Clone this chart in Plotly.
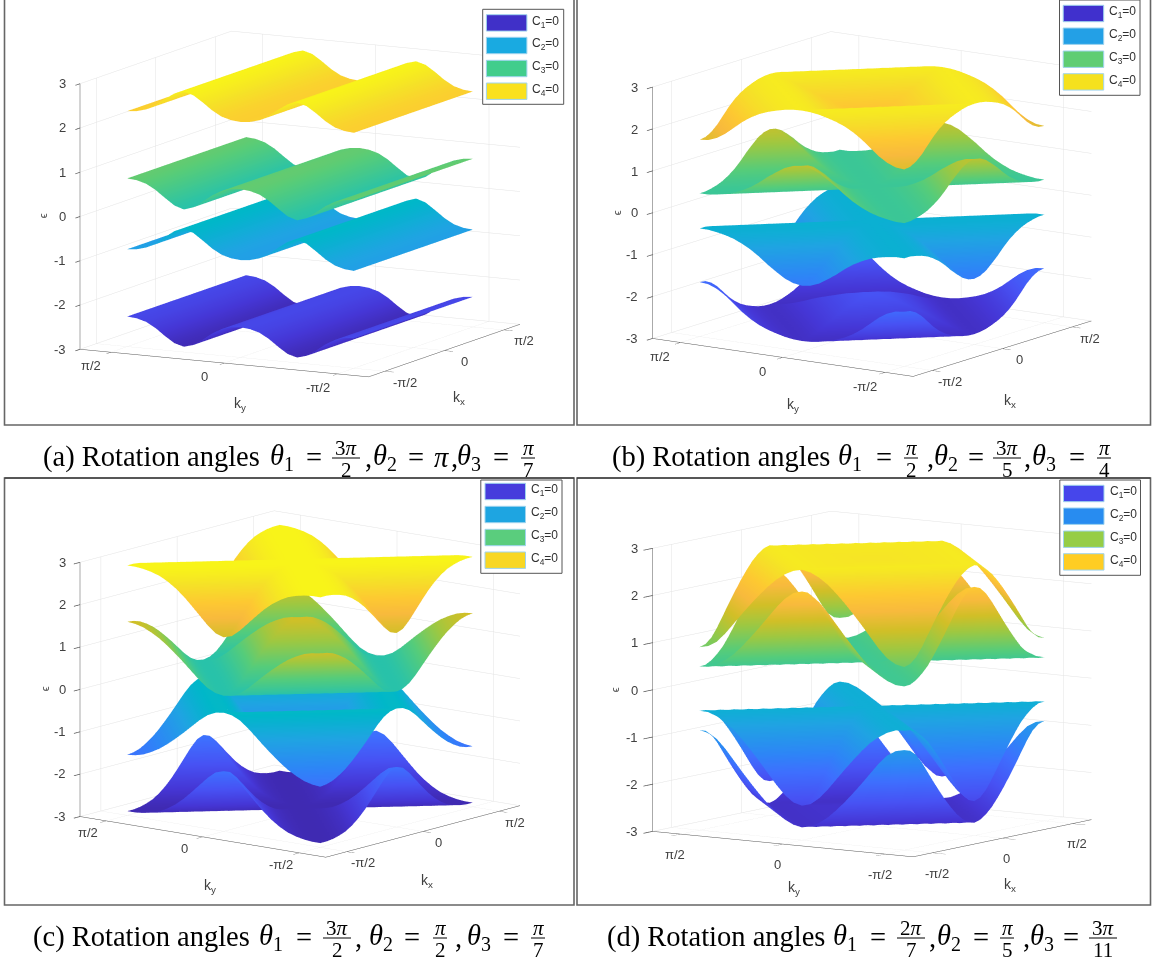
import numpy as np
import plotly.graph_objects as go

W, H = 1152, 965
# ---------------- values ---------------------------------------
k_fine = [-1.571, -1.44, -1.309, -1.178, -1.047, -0.916, -0.785, -0.654, -0.524, -0.393, -0.262, -0.131, 0.0,
          0.131, 0.262, 0.393, 0.524, 0.654, 0.785, 0.916, 1.047, 1.178, 1.309, 1.44, 1.571]
grid_step = [12, 11, 10, 9, 8, 7, 6, 5, 4, 3, 2, 1, 0, 1, 2, 3, 4, 5, 6, 7, 8, 9, 10, 11, 12]
tick_vals = [-1.571, 0.0, 1.571]
tick_text = ["-π/2", "0", "π/2"]
eps_ticks = [-3, -2, -1, 0, 1, 2, 3]

# panel (a): the bands depend on k_y only
a_band4 = [2.32,2.34,2.40,2.52,2.68,2.82,2.88,2.82,2.68,2.52,2.40,2.34,2.32,2.34,2.40,2.52,2.68,2.82,2.88,2.82,2.68,2.52,2.40,2.34,2.32]
a_band3 = [0.80,0.78,0.72,0.60,0.44,0.29,0.22,0.29,0.44,0.60,0.72,0.78,0.80,0.78,0.72,0.60,0.44,0.29,0.22,0.29,0.44,0.60,0.72,0.78,0.80]

# panels (b)-(d): heights read along |kx|+|ky| ("sum") or along ||kx|-|ky|| ("diff"), in steps of pi/24
b_band4_sum = [2.10,2.13,2.18,2.22,2.28,2.34,2.40,2.47,2.55,2.62,2.68,2.73,2.75,2.74,2.71,2.66,2.60,2.52,2.41,2.27,2.10,1.93,1.80,1.72,1.70]
b_band3_diff = [0.42,0.42,0.45,0.49,0.55,0.64,0.75,0.89,1.05,1.19,1.32,1.40,1.43]
c_band4_diff = [2.90,2.90,2.88,2.84,2.78,2.68,2.55,2.39,2.20,2.00,1.80,1.64,1.58]
c_band3_sum = [1.57,1.55,1.50,1.41,1.30,1.16,1.00,0.83,0.65,0.47,0.32,0.23,0.20,0.23,0.32,0.47,0.65,0.83,1.00,1.16,1.30,1.41,1.50,1.55,1.57]
d_band4_sum = [2.66,2.66,2.66,2.67,2.67,2.68,2.68,2.69,2.70,2.71,2.72,2.73,2.73,2.69,2.60,2.47,2.30,2.11,1.90,1.68,1.45,1.22,1.03,0.92,0.88]
d_band3_diff = [0.47,0.48,0.55,0.66,0.80,0.99,1.20,1.42,1.65,1.88,2.08,2.22,2.27]

legend_names = ["C<sub>1</sub>=0", "C<sub>2</sub>=0", "C<sub>3</sub>=0", "C<sub>4</sub>=0"]
a_legend = ["#4030c8", "#19aae1", "#41cd8c", "#fae11e"]
b_legend = ["#4030cd", "#23a0e6", "#5fcd73", "#f5e11e"]
c_legend = ["#463cdc", "#1ea5e1", "#5acd7d", "#f8d723"]
d_legend = ["#4646eb", "#288cf0", "#96cd46", "#ffcd23"]

parula = [(0, .2422,.1504,.6603),(4,.2706,.2147,.8364),(9,.2810,.3228,.9579),(14,.2440,.4358,.9988),(18,.1786,.5289,.9682),
          (24,.1248,.6459,.8883),(29,.0036,.7203,.7917),(34,.1717,.7670,.6554),(39,.3406,.8008,.4789),(44,.6174,.7876,.2612),
          (48,.8203,.7498,.1535),(52,.9728,.7298,.2394),(55,.9952,.7861,.1991),(59,.9610,.8890,.1537),(63,.9769,.9839,.0805)]
colorscale = [[s/63, "rgb(%d,%d,%d)" % (r*255, g*255, b*255)] for s, r, g, b in parula]


def by_sum(profile):
    return np.array(profile)[np.add.outer(grid_step, grid_step)]


def by_diff(profile):
    return np.array(profile)[np.abs(np.subtract.outer(grid_step, grid_step))]


def strip(profile):
    return np.tile(np.array(profile), (len(k_fine), 1)).T


panels = [
    dict(name="scene", b4=strip(a_band4), b3=strip(a_band3), th=27.7, el=10.5, asp=.829, sc=1.605,
         c=(300, 203.8), tl=10, kys=(-20, -13.5), kxs=(20, -11), tky=(16, -41), tkx=(15, -48), es=-37, leg=a_legend,
         lb=(482.7, 9.3, 563.7, 104.3), lr=[14.7, 37.3, 60.3, 83], lx=486.4),
    dict(name="scene2", b4=by_sum(b_band4_sum), b3=by_diff(b_band3_diff), th=34.4, el=12.3, asp=.815, sc=1.555,
         c=(871.6, 204.2), tl=10, kys=(-20, -14), kxs=(18, -11), tky=(11, -47), tkx=(8.4, -52), es=-35, leg=b_legend,
         lb=(1059.5, 0, 1140, 95.3), lr=[5.3, 28, 51, 73.7], lx=1063.2),
    dict(name="scene3", b4=by_diff(c_band4_diff), b3=by_sum(c_band3_sum), th=38.3, el=12.1, asp=.83, sc=1.543,
         c=(300, 683.8), tl=10, kys=(-18, -12), kxs=(16, -11), tky=(7.4, -49.5), tkx=(4, -50), es=-35, leg=c_legend,
         lb=(480.8, 480, 562, 573.3), lr=[483.3, 506.3, 529.3, 552], lx=485),
    dict(name="scene4", b4=by_sum(d_band4_sum), b3=by_diff(d_band3_diff), th=34.4, el=8.2, asp=.906, sc=1.555,
         c=(871.6, 684.2), tl=16, kys=(-5, -20), kxs=(5, -20), tky=(12, -44), tkx=(8, -47), es=-37, leg=d_legend,
         lb=(1059.8, 480, 1140.5, 575.3), lr=[485.3, 508, 531, 553.7], lx=1063.5),
]

fig = go.Figure()
shapes, annos = [], []
TXT = "#404040"
LBL = dict(family="Liberation Sans, Arial", size=13, color=TXT)
DW, DH = 280, 203
R = 2.0


def px(x):
    return x / W


def py(y):
    return 1 - y / H


for p in panels:
    for z in (-p["b4"], -p["b3"], p["b3"], p["b4"]):
        fig.add_trace(go.Surface(x=k_fine, y=k_fine, z=z, scene=p["name"], surfacecolor=z, cmin=-3, cmax=3,
                                 colorscale=colorscale, showscale=False, hoverinfo="skip",
                                 lighting=dict(ambient=1, diffuse=0, specular=0, fresnel=0, roughness=1),
                                 contours=dict(x=dict(highlight=False), y=dict(highlight=False), z=dict(highlight=False))))
    t, e = np.radians(p["th"]), np.radians(p["el"])
    eye = dict(x=-R*np.cos(t)*np.cos(e), y=-R*np.sin(t)*np.cos(e), z=R*np.sin(e))
    axis = dict(showbackground=False, showgrid=True, gridcolor="#e3e3e3", gridwidth=1, zeroline=False, showline=True,
                linecolor="#555555", linewidth=1, ticks="outside", ticklen=p["tl"], tickwidth=1.5, tickcolor="#555555",
                showticklabels=False, title=dict(text=""), showspikes=False)
    sa = []
    for v, s in zip(tick_vals, tick_text):
        sa.append(dict(x=-2, y=v, z=-3, text=s, showarrow=False, xshift=p["kys"][0], yshift=p["kys"][1], font=LBL))
        sa.append(dict(x=v, y=-2, z=-3, text=s, showarrow=False, xshift=p["kxs"][0], yshift=p["kxs"][1], font=LBL))
    for v in eps_ticks:
        sa.append(dict(x=-2, y=2, z=v, text=str(v), showarrow=False, xanchor="right", xshift=-12, font=LBL))
    sa.append(dict(x=-2, y=0, z=-3, text="k<sub>y</sub>", showarrow=False, xshift=p["tky"][0], yshift=p["tky"][1],
                   font=dict(family="Liberation Sans, Arial", size=14, color=TXT)))
    sa.append(dict(x=0, y=-2, z=-3, text="k<sub>x</sub>", showarrow=False, xshift=p["tkx"][0], yshift=p["tkx"][1],
                   font=dict(family="Liberation Sans, Arial", size=14, color=TXT)))
    sa.append(dict(x=-2, y=2, z=0, text="ϵ", showarrow=False, xshift=p["es"], textangle=-90,
                   font=dict(family="Liberation Sans, Arial", size=11, color=TXT)))
    cx, cy = p["c"]
    fig.update_layout({p["name"]: dict(
        domain=dict(x=[px(cx-DW), px(cx+DW)], y=[py(cy+DH), py(cy-DH)]),
        aspectmode="manual", aspectratio=dict(x=p["sc"], y=p["sc"], z=p["asp"]*p["sc"]),
        camera=dict(projection=dict(type="orthographic"), eye=eye, center=dict(x=0, y=0, z=0), up=dict(x=0, y=0, z=1)),
        xaxis=dict(axis, range=[-2, 2], tickvals=tick_vals),
        yaxis=dict(axis, range=[-2, 2], tickvals=tick_vals),
        zaxis=dict(axis, range=[-3, 3], tickvals=eps_ticks),
        bgcolor="white", annotations=sa)})
    x0, y0, x1, y1 = p["lb"]
    shapes.append(dict(type="rect", xref="paper", yref="paper", x0=px(x0), x1=px(x1), y0=py(y0), y1=py(y1),
                       line=dict(color="#555555", width=1), fillcolor="white"))
    for ry, col, nm in zip(p["lr"], p["leg"], legend_names):
        shapes.append(dict(type="rect", xref="paper", yref="paper", x0=px(p["lx"]), x1=px(p["lx"]+40.5), y0=py(ry),
                           y1=py(ry+16.4), line=dict(color="#9fd4ee", width=1), fillcolor=col))
        annos.append(dict(xref="paper", yref="paper", x=px(p["lx"]+44), y=py(ry+7), text=nm, showarrow=False,
                          xanchor="left", yanchor="middle", font=dict(family="Liberation Sans, Arial", size=12, color="#303030")))

# panel frames
for x0, y0, x1, y1 in [(4.5, -3, 574, 425), (577, -3, 1150.5, 425), (4.5, 478, 574, 905), (577, 478, 1150.5, 905)]:
    shapes.append(dict(type="rect", xref="paper", yref="paper", x0=px(x0), x1=px(x1), y0=py(y0), y1=py(y1),
                       line=dict(color="#666666", width=1.6), fillcolor="rgba(0,0,0,0)"))
    if y0 > 0:
        shapes.append(dict(type="line", xref="paper", yref="paper", x0=px(x0), x1=px(x1), y0=py(y0), y1=py(y0),
                           line=dict(color="#222222", width=1)))

SERIF = "Liberation Serif, Times New Roman"


def text(x, y, s, size=28.5):
    annos.append(dict(xref="paper", yref="paper", x=px(x), y=py(y), text=s, showarrow=False, xanchor="left",
                      yanchor="middle", font=dict(family=SERIF, size=size, color="black")))


def frac(xc, yc, num, den, w):
    for s, dy in ((num, -9.5), (den, 13)):
        annos.append(dict(xref="paper", yref="paper", x=px(xc), y=py(yc+dy), text=s, showarrow=False, xanchor="center",
                          yanchor="middle", font=dict(family=SERIF, size=21, color="black")))
    shapes.append(dict(type="line", xref="paper", yref="paper", x0=px(xc-w/2), x1=px(xc+w/2), y0=py(yc+1), y1=py(yc+1),
                       line=dict(color="black", width=1)))


th = lambda i: "<i>θ</i><sub>%d</sub>" % i
PIT = "<i>π</i>"


def caption(y, label, items):
    text(label[0], y, label[1])
    for it in items:
        if it[0] == "t":
            text(it[1], y, it[2])
        else:
            frac(it[1], y, it[2], it[3], it[4])


caption(457, (41, "(a) Rotation angles"), [
    ("t", 268, th(1)), ("t", 304, "="), ("f", 346, "3"+PIT, "2", 28), ("t", 363, ","), ("t", 371, th(2)), ("t", 406, "="),
    ("t", 432, PIT), ("t", 449, ","), ("t", 455, th(3)), ("t", 491, "="), ("f", 528, PIT, "7", 14)])
caption(457, (610, "(b) Rotation angles"), [
    ("t", 836, th(1)), ("t", 874, "="), ("f", 911, PIT, "2", 14), ("t", 925, ","), ("t", 932, th(2)), ("t", 966, "="),
    ("f", 1007, "3"+PIT, "5", 28), ("t", 1022, ","), ("t", 1030, th(3)), ("t", 1067, "="), ("f", 1104, PIT, "4", 14)])
caption(937, (31, "(c) Rotation angles"), [
    ("t", 257, th(1)), ("t", 294, "="), ("f", 337, "3"+PIT, "2", 28), ("t", 353, ","), ("t", 367, th(2)), ("t", 402, "="),
    ("f", 440, PIT, "2", 14), ("t", 453, ","), ("t", 465, th(3)), ("t", 501, "="), ("f", 538, PIT, "7", 14)])
caption(937, (605, "(d) Rotation angles"), [
    ("t", 831, th(1)), ("t", 868, "="), ("f", 911, "2"+PIT, "7", 28), ("t", 927, ","), ("t", 935, th(2)), ("t", 971, "="),
    ("f", 1007, PIT, "5", 14), ("t", 1021, ","), ("t", 1028, th(3)), ("t", 1061, "="), ("f", 1103, "3"+PIT, "11", 28)])

fig.update_layout(width=W, height=H, margin=dict(l=0, r=0, t=0, b=0), paper_bgcolor="white", shapes=shapes,
                  annotations=annos, showlegend=False, hovermode=False)
fig.write_html("out.html", config=dict(displayModeBar=False),
               post_script="document.body.style.margin='0';document.body.style.overflow='hidden';")
